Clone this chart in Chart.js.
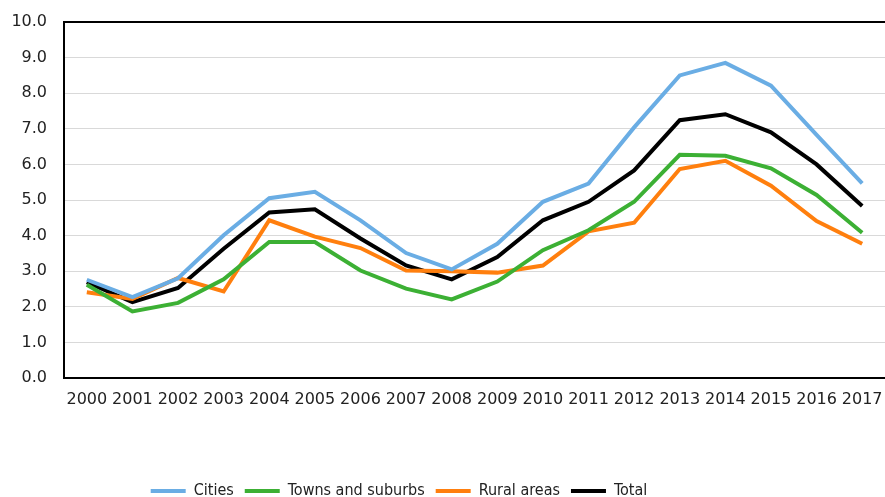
<!DOCTYPE html>
<html>
<head>
<meta charset="utf-8">
<script src="https://cdn.jsdelivr.net/npm/chart.js@4.4.1/dist/chart.umd.min.js"></script>
<style>
  html, body { margin: 0; padding: 0; background: #fff; }
  #wrap { width: 885px; height: 497px; }
</style>
</head>
<body>
<div id="wrap"><canvas id="trendChart"></canvas></div>
<script>
/****************************** Data ********************************/
const years = ["2000", "2001", "2002", "2003", "2004", "2005", "2006", "2007", "2008",
               "2009", "2010", "2011", "2012", "2013", "2014", "2015", "2016", "2017"];
const cities = [2.76, 2.27, 2.80, 4.01, 5.05, 5.23, 4.43, 3.51, 3.05,
                3.77, 4.95, 5.46, 7.04, 8.50, 8.85, 8.21, 6.83, 5.47];
const townsSuburbs = [2.62, 1.87, 2.11, 2.77, 3.82, 3.82, 3.02, 2.51, 2.21,
                      2.71, 3.59, 4.15, 4.95, 6.27, 6.24, 5.89, 5.14, 4.08];
const ruralAreas = [2.41, 2.22, 2.81, 2.43, 4.43, 3.97, 3.65, 3.02, 3.00,
                    2.96, 3.16, 4.12, 4.36, 5.87, 6.10, 5.40, 4.41, 3.77];
const total = [2.69, 2.13, 2.53, 3.63, 4.65, 4.74, 3.92, 3.16, 2.77,
               3.40, 4.43, 4.95, 5.83, 7.24, 7.41, 6.90, 6.00, 4.83];
const yTicks = [0, 1, 2, 3, 4, 5, 6, 7, 8, 9, 10];

const seriesNames = ["Cities", "Towns and suburbs", "Rural areas", "Total"];
const seriesColors = ["#6aade4", "#3cb034", "#ff7f0e", "#000000"];
const seriesData = [cities, townsSuburbs, ruralAreas, total];

/****************************** Line Chart ********************************/
{
    const tickFont = { family: "'DejaVu Sans', Verdana, sans-serif", size: 16 };

    // moves the legend so it sits like the original one
    const legendShift = {
        id: "legendShift",
        afterLayout(chart) {
            const lg = chart.legend;
            const dx = 399 - (lg.left + lg.right) / 2;
            lg.left += dx;
            lg.right += dx;
            lg.top += 12;
            lg.bottom += 12;
        }
    };

    new Chart("trendChart", {
        type: "line",
        data: {
            labels: years,
            datasets: seriesData.map(function (d, i) {
                return {
                    label: seriesNames[i],
                    data: d,
                    borderColor: seriesColors[i],
                    backgroundColor: seriesColors[i],
                    borderWidth: 4,
                    pointRadius: 0,
                    tension: 0,
                    fill: false
                };
            })
        },
        options: {
            responsive: true,
            maintainAspectRatio: false,
            animation: false,
            layout: { padding: { left: 11, right: 0, top: 22, bottom: 0 } },
            scales: {
                x: {
                    offset: true,
                    grid: { display: false, offset: true },
                    border: { display: true, color: "#000", width: 2 },
                    ticks: {
                        color: "#222",
                        font: tickFont,
                        padding: 4,
                        autoSkip: false,
                        maxRotation: 0
                    },
                    afterFit: function (scale) {
                        scale.height = 82;
                        scale.paddingLeft = 0;
                        scale.paddingRight = 0;
                    }
                },
                y: {
                    min: 0,
                    max: 10,
                    afterBuildTicks: function (scale) {
                        scale.ticks = yTicks.map(function (v) { return { value: v }; });
                    },
                    grid: {
                        color: function (ctx) { return ctx.tick && ctx.tick.value === 10 ? "#000" : "#d9d9d9"; },
                        lineWidth: function (ctx) { return ctx.tick && ctx.tick.value === 10 ? 2 : 1; },
                        drawTicks: false
                    },
                    border: { display: true, color: "#000", width: 2 },
                    ticks: {
                        color: "#222",
                        font: tickFont,
                        padding: 17,
                        callback: function (v) { return v.toFixed(1); }
                    },
                    afterFit: function (scale) {
                        scale.width = 53;
                        scale.paddingTop = 0;
                        scale.paddingBottom = 0;
                    }
                }
            },
            plugins: {
                legend: {
                    position: "bottom",
                    labels: {
                        color: "#222",
                        font: { family: "'DejaVu Sans Condensed', 'Liberation Sans', Arial, sans-serif", size: 16 },
                        boxWidth: 35,
                        boxHeight: 4,
                        padding: 11,
                        generateLabels: function (chart) {
                            return Chart.defaults.plugins.legend.labels.generateLabels(chart).map(function (it) {
                                it.lineWidth = 0;
                                it.fillStyle = it.strokeStyle;
                                return it;
                            });
                        }
                    }
                },
                tooltip: { enabled: false }
            }
        },
        plugins: [legendShift]
    });
}
</script>
</body>
</html>
